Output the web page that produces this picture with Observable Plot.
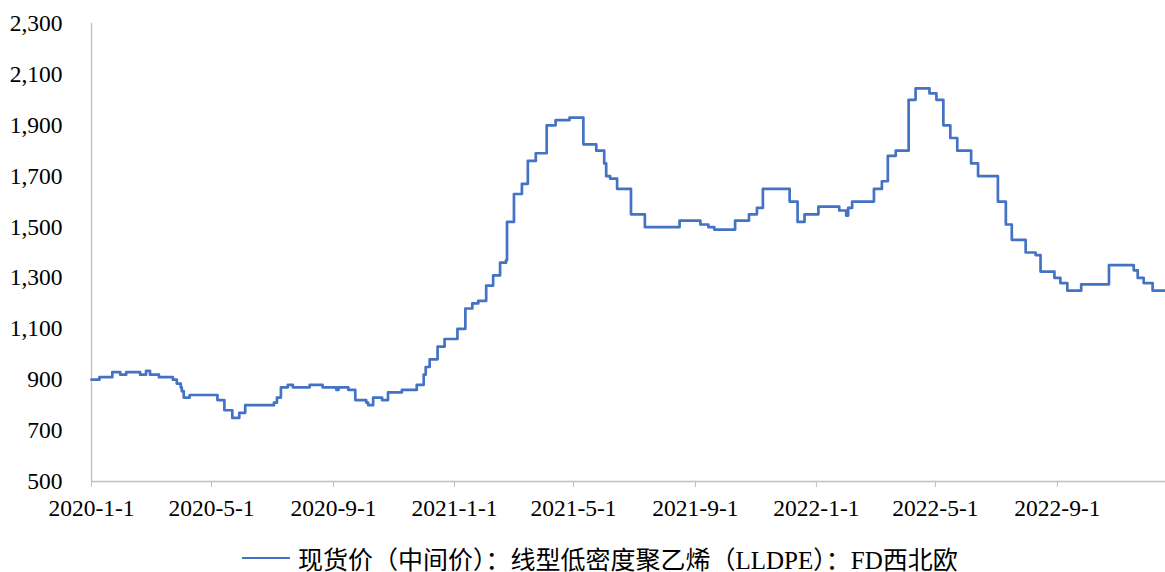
<!DOCTYPE html>
<html>
<head>
<meta charset="utf-8">
<script src="https://cdn.jsdelivr.net/npm/d3@7"></script>
<script src="https://cdn.jsdelivr.net/npm/@observablehq/plot@0.6"></script>
<style>
  html, body { margin: 0; padding: 0; background: #fff; }
  #wrap { position: relative; width: 1165px; height: 572px; }
  #legend { position: absolute; left: 242px; top: 542px; height: 32px; display: flex; align-items: center;
    font-family: "Liberation Serif", "Noto Sans CJK SC", serif; font-size: 25px; color: #000; white-space: nowrap; }
  #legend .sw { width: 48px; height: 0; border-top: 2.5px solid #4472C4; margin-right: 8px; }
</style>
</head>
<body>
<div id="wrap">
  <div id="chart"></div>
  <div id="legend"><span class="sw"></span><span>现货价（中间价）：线型低密度聚乙烯（LLDPE）：FD西北欧</span></div>
</div>
<script>
const dates = ["2020-01-01","2020-01-09","2020-01-22","2020-01-30","2020-02-05","2020-02-19","2020-02-25","2020-02-29","2020-03-09","2020-03-23","2020-03-27","2020-03-31","2020-04-01","2020-04-03","2020-04-09","2020-05-07","2020-05-14","2020-05-22","2020-05-29","2020-06-04","2020-07-03","2020-07-06","2020-07-10","2020-07-17","2020-07-22","2020-08-08","2020-08-21","2020-09-04","2020-09-06","2020-09-16","2020-09-23","2020-10-04","2020-10-06","2020-10-11","2020-10-20","2020-10-26","2020-11-09","2020-11-24","2020-12-01","2020-12-03","2020-12-07","2020-12-15","2020-12-22","2021-01-04","2021-01-12","2021-01-19","2021-01-25","2021-02-02","2021-02-09","2021-02-16","2021-02-22","2021-02-23","2021-03-02","2021-03-10","2021-03-16","2021-03-24","2021-04-04","2021-04-13","2021-04-27","2021-05-11","2021-05-24","2021-06-01","2021-06-03","2021-06-07","2021-06-14","2021-06-28","2021-07-12","2021-08-16","2021-09-06","2021-09-14","2021-09-20","2021-10-11","2021-10-25","2021-11-02","2021-11-08","2021-12-05","2021-12-13","2021-12-20","2022-01-03","2022-01-24","2022-01-31","2022-02-02","2022-02-06","2022-02-28","2022-03-08","2022-03-14","2022-03-22","2022-04-04","2022-04-11","2022-04-25","2022-05-02","2022-05-09","2022-05-16","2022-05-23","2022-06-06","2022-06-13","2022-07-03","2022-07-11","2022-07-17","2022-07-31","2022-08-10","2022-08-15","2022-08-29","2022-09-04","2022-09-11","2022-09-25","2022-10-23","2022-11-14","2022-11-17","2022-11-21","2022-11-27","2022-12-06","2022-12-19"];
const values = [900,910,930,920,930,920,935,920,910,900,885,870,855,830,840,820,780,750,770,800,810,830,870,880,870,880,870,860,870,860,820,810,800,830,820,850,860,880,920,950,980,1030,1060,1100,1180,1200,1210,1270,1310,1360,1370,1520,1630,1670,1760,1790,1900,1920,1930,1825,1800,1750,1700,1690,1650,1550,1500,1525,1510,1500,1490,1525,1550,1575,1650,1600,1520,1550,1580,1565,1545,1575,1600,1650,1680,1780,1800,2000,2045,2025,2000,1900,1850,1800,1750,1700,1600,1510,1450,1400,1390,1325,1300,1280,1250,1275,1350,1350,1330,1300,1280,1250,1250];
const xTickLabels = ["2020-1-1","2020-5-1","2020-9-1","2021-1-1","2021-5-1","2021-9-1","2022-1-1","2022-5-1","2022-9-1"];
const yTicks = [500,700,900,1100,1300,1500,1700,1900,2100,2300];
const seriesName = "现货价（中间价）：线型低密度聚乙烯（LLDPE）：FD西北欧";

const parse = s => { const [y,m,d] = s.split("-").map(Number); return new Date(Date.UTC(y, m-1, d)); };
const data = dates.map((d, i) => ({date: parse(d), value: values[i]}));
const xTicks = xTickLabels.map(parse);
const x0 = parse(dates[0]), x1 = parse(dates[dates.length-1]);
const fmtDate = d => `${d.getUTCFullYear()}-${d.getUTCMonth()+1}-${d.getUTCDate()}`;

const chart = Plot.plot({
  width: 1165,
  height: 532,
  marginTop: 23,
  marginBottom: 51,
  marginLeft: 91,
  marginRight: 0,
  style: {fontFamily: "Liberation Serif, serif", fontSize: "23.5px", color: "#000", background: "#fff", overflow: "visible"},
  x: {type: "utc", domain: [x0, x1]},
  y: {domain: [500, 2300]},
  marks: [
    Plot.axisX({ticks: xTicks, tickFormat: fmtDate, tickSize: 6, tickPadding: 12, stroke: "#BFBFBF", fill: "#000", label: null}),
    Plot.axisY({ticks: yTicks, tickFormat: d3.format(","), tickSize: 0, tickPadding: 29, fill: "#000", label: null}),
    Plot.ruleX([x0], {stroke: "#BFBFBF", strokeWidth: 1.3}),
    Plot.ruleY([500], {stroke: "#BFBFBF", strokeWidth: 1.3}),
    Plot.line(data, {x: "date", y: "value", curve: "step-after", stroke: "#4472C4", strokeWidth: 2.7})
  ]
});
document.getElementById("chart").appendChild(chart);
</script>
</body>
</html>
